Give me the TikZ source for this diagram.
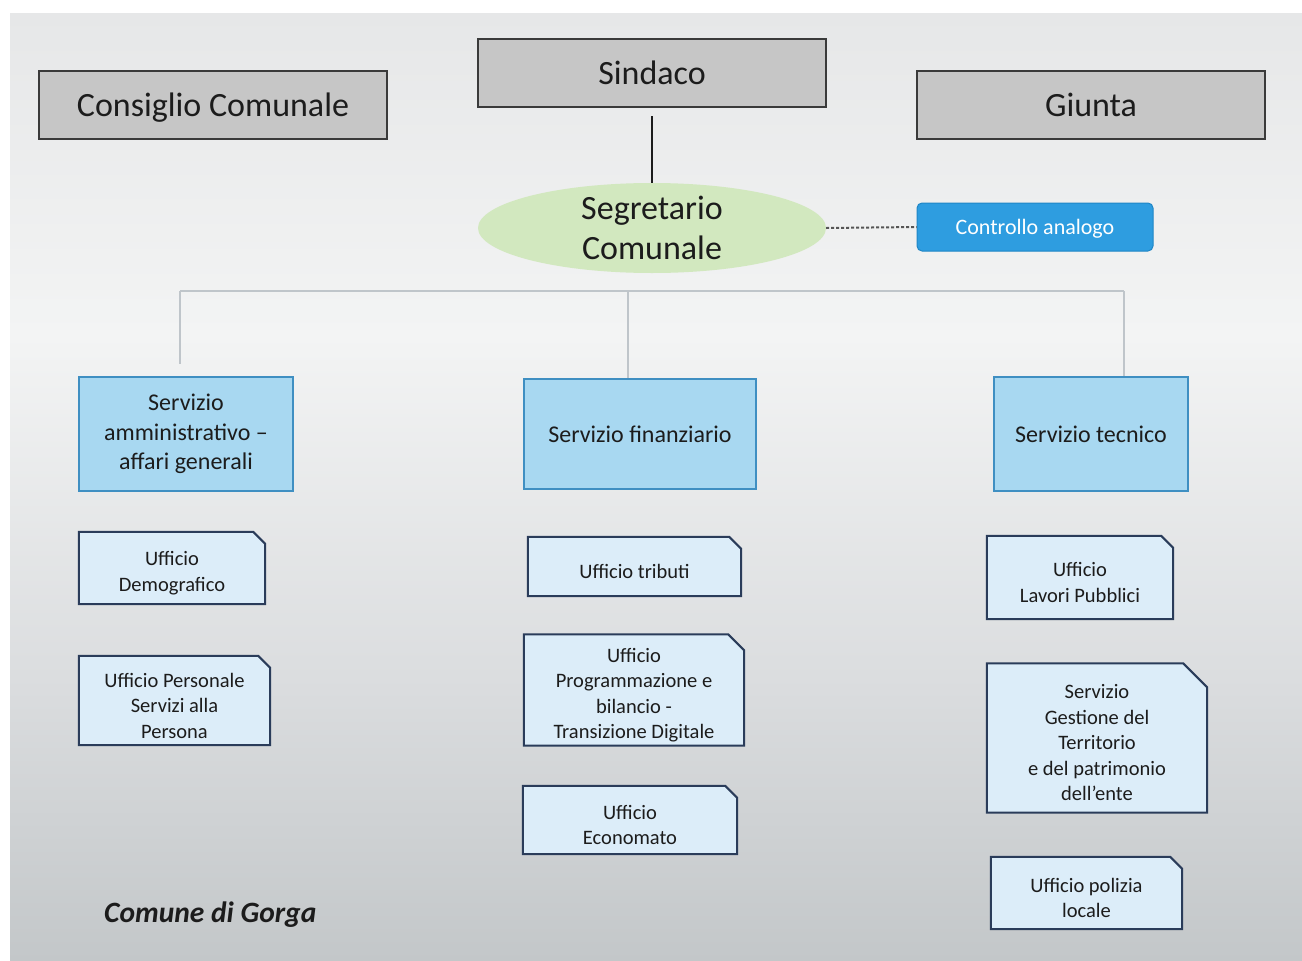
\documentclass[tikz,border=0pt]{standalone}
\usepackage{fontspec}
\setmainfont{Carlito}
\usetikzlibrary{shapes.geometric,calc,backgrounds}

\definecolor{bgtop}{HTML}{E6E7E8}
\definecolor{bgmid}{HTML}{F3F4F4}
\definecolor{bglow}{HTML}{DBDDDF}
\definecolor{bgbot}{HTML}{C3C7C9}
\definecolor{headfill}{HTML}{C6C6C6}
\definecolor{headedge}{HTML}{3A3A3A}
\definecolor{segfill}{HTML}{D2E8BF}
\definecolor{ctrlfill}{HTML}{2E9DE0}
\definecolor{ctrledge}{HTML}{1F86C6}
\definecolor{servfill}{HTML}{A8D8F1}
\definecolor{servedge}{HTML}{3F8FC2}
\definecolor{offfill}{HTML}{DCEDF9}
\definecolor{offedge}{HTML}{2A3C5A}
\definecolor{busline}{HTML}{BFC5CA}
\definecolor{ink}{HTML}{1C1C1C}

\pgfdeclareverticalshading{slidebg}{100bp}{%
  color(0bp)=(bgbot); color(25bp)=(bgbot); color(40bp)=(bglow);
  color(58bp)=(bgmid); color(75bp)=(bgtop); color(100bp)=(bgtop)}

\tikzset{
  headbox/.style={draw=headedge, line width=2.5pt, fill=headfill,
    minimum width=348, minimum height=68, inner sep=0,
    text height=22pt, text depth=0pt,
    font=\fontsize{34}{40}\selectfont, text=ink},
  segbox/.style={ellipse, fill=segfill, draw=none, minimum width=348,
    minimum height=86, inner sep=0, align=center,
    font=\fontsize{34}{40}\selectfont, text=ink},
  ctrlbox/.style={rounded corners=5pt, fill=ctrlfill, draw=ctrledge,
    line width=1pt, minimum width=236, minimum height=48, inner sep=0,
    text height=14pt, text depth=0pt,
    font=\fontsize{22}{26}\selectfont, text=white},
  servbox/.style={draw=servedge, line width=2pt, fill=servfill,
    inner sep=0, align=center, font=\fontsize{24}{29.5}\selectfont, text=ink},
  officebox/.style={draw=none, fill=none, inner sep=0},
  officetext/.style={inner sep=0, align=center, yshift=-5pt,
    font=\fontsize{20.5}{25.5}\selectfont, text=ink},
  officeedge/.style={draw=offedge, line width=2pt, fill=offfill, line join=miter},
  bus/.style={draw=busline, line width=1.5pt},
  link/.style={draw=ink, line width=2pt},
  dotlink/.style={draw=ink!75, line width=2pt, dash pattern=on 3pt off 2pt},
}

\begin{document}
\begin{tikzpicture}[x=1pt,y=-1pt]
\useasboundingbox (0,0) rectangle (1302,961);

% top row
\node[headbox] (cc)  at (213,105)  {Consiglio Comunale};
\node[headbox] (sin) at (652,73)   {Sindaco};
\node[headbox] (giu) at (1091,105) {Giunta};

% secretary and analogue control
\node[segbox] (seg) at (652,228) {Segretario\\Comunale};
\node[ctrlbox] (ctrl) at (1035,227) {Controllo analogo};

% services
\node[servbox, minimum width=214, minimum height=114] (sa)  at (186,434)
  {Servizio\\amministrativo –\\affari generali};
\node[servbox, minimum width=232, minimum height=110] (fin) at (640,434)
  {Servizio finanziario};
\node[servbox, minimum width=194, minimum height=114] (tec) at (1091,434)
  {Servizio tecnico};

% offices: frame nodes carry the text as a centred label
\node[officebox, minimum width=186, minimum height=72,
  label={[officetext]center:{Ufficio\\Demografico}}] (dem) at (172,568) {};
\node[officebox, minimum width=191, minimum height=89,
  label={[officetext]center:{Ufficio Personale\\Servizi alla\\Persona}}] (per) at (174.5,700.5) {};
\node[officebox, minimum width=213, minimum height=59,
  label={[officetext]center:{Ufficio tributi}}] (trib) at (634.5,566.5) {};
\node[officebox, minimum width=220, minimum height=111,
  label={[officetext]center:{Ufficio\\Programmazione e\\bilancio -\\Transizione Digitale}}] (prog) at (634,690) {};
\node[officebox, minimum width=214, minimum height=68,
  label={[officetext]center:{Ufficio\\Economato}}] (econ) at (630,820) {};
\node[officebox, minimum width=186, minimum height=83,
  label={[officetext]center:{Ufficio\\Lavori Pubblici}}] (lav) at (1080,577.5) {};
\node[officebox, minimum width=220, minimum height=149,
  label={[officetext]center:{Servizio\\Gestione del\\Territorio\\e del patrimonio\\dell’ente}}] (ges) at (1097,738) {};
\node[officebox, minimum width=191, minimum height=72,
  label={[officetext]center:{Ufficio polizia\\locale}}] (pol) at (1086.5,893) {};

% footer
\node[anchor=base west, inner sep=0, font=\fontsize{29.5}{33}\selectfont\bfseries\itshape,
  text=ink] (foot) at (104,922) {Comune di Gorga};

% connectors
\draw[link] ($(sin.south)+(0,8)$) -- (seg.north);
\draw[dotlink] (seg.east) -- (ctrl.west);

\coordinate (bl) at (180,291);
\coordinate (bm) at (628,291);
\coordinate (br) at (1124,291);
\draw[bus] (bl) -- (br);
\draw[bus] (bl) -- ($(bl |- sa.north)+(0,-12)$);
\draw[bus] (bm) -- (bm |- fin.north);
\draw[bus] (br) -- (br |- tec.north);

% page, slide gradient and the snipped office frames sit behind the text
\begin{pgfonlayer}{background}
  \fill[white] (0,0) rectangle (1302,961);
  \shade[shading=slidebg] (10,13) rectangle (1302,961);
  \foreach \n/\s in {dem/12, per/12, trib/12, prog/16, econ/12, lav/12, ges/24, pol/12}
    \path[officeedge] (\n.south west) -- (\n.north west)
      -- ($(\n.north east)+(-\s,0)$) -- ($(\n.north east)+(0,\s)$)
      -- (\n.south east) -- cycle;
\end{pgfonlayer}
\end{tikzpicture}
\end{document}
